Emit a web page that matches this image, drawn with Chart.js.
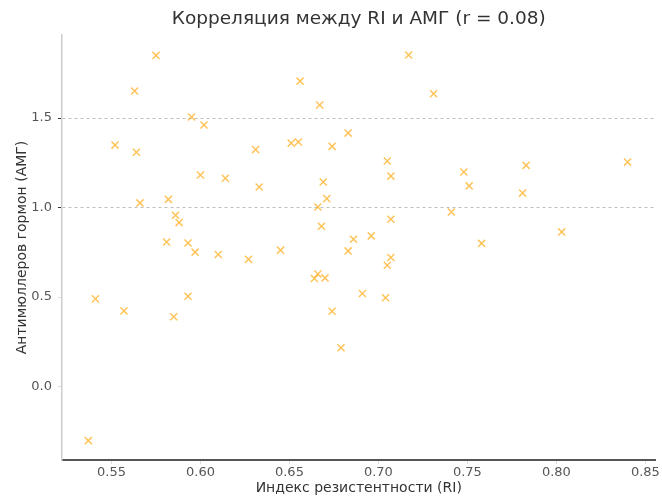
<!DOCTYPE html>
<html>
<head>
<meta charset="utf-8">
<script src="https://cdn.jsdelivr.net/npm/chart.js@4.4.1/dist/chart.umd.min.js"></script>
<style>
  html, body { margin: 0; padding: 0; background: #fff; }
  #chart { display: block; }
</style>
</head>
<body>
<canvas id="chart" width="662" height="497"></canvas>
<script>
// RI values (x) and AMH values (y)
const riValues = [
  0.575, 0.563, 0.595, 0.602, 0.552, 0.564, 0.631, 0.600, 0.614, 0.633,
  0.566, 0.582, 0.586, 0.588, 0.717, 0.656, 0.731, 0.667, 0.683, 0.651,
  0.655, 0.674, 0.705, 0.707, 0.748, 0.751, 0.669, 0.671, 0.666, 0.741,
  0.707, 0.668, 0.840, 0.783, 0.781, 0.803, 0.758, 0.581, 0.593, 0.597,
  0.610, 0.627, 0.645, 0.541, 0.557, 0.593, 0.585, 0.537, 0.686, 0.696,
  0.683, 0.707, 0.705, 0.664, 0.666, 0.670, 0.691, 0.704, 0.674, 0.679
];
const amhValues = [
  1.850, 1.651, 1.506, 1.461, 1.349, 1.309, 1.324, 1.182, 1.164, 1.115,
  1.026, 1.046, 0.957, 0.916, 1.852, 1.706, 1.636, 1.573, 1.416, 1.360,
  1.366, 1.342, 1.260, 1.176, 1.199, 1.121, 1.143, 1.050, 1.003, 0.975,
  0.935, 0.896, 1.254, 1.236, 1.081, 0.864, 0.800, 0.808, 0.802, 0.751,
  0.738, 0.711, 0.762, 0.490, 0.423, 0.505, 0.390, -0.302, 0.823, 0.842,
  0.758, 0.721, 0.678, 0.604, 0.629, 0.607, 0.520, 0.496, 0.421, 0.217
];

const xTicks = [0.55, 0.60, 0.65, 0.70, 0.75, 0.80, 0.85];
const yTicks = [0.0, 0.5, 1.0, 1.5];
const gridTicks = [1.0, 1.5];

const titleText = 'Корреляция между RI и АМГ (r = 0.08)';
const xTitle = 'Индекс резистентности (RI)';
const yTitle = 'Антимюллеров гормон (АМГ)';

const points = riValues.map((x, i) => ({ x: x, y: amhValues[i] }));

// title centred over the plot area, like matplotlib does
const plotTitle = {
  id: 'plotTitle',
  afterDraw(chart) {
    const c = chart.ctx;
    const area = chart.chartArea;
    c.save();
    c.font = '18.5px "DejaVu Sans"';
    c.fillStyle = '#333';
    c.textAlign = 'center';
    c.textBaseline = 'middle';
    c.fillText(titleText, (area.left + area.right) / 2, 19);
    c.restore();
  }
};

const ctx = document.getElementById('chart');

const chart = new Chart(ctx, {
  type: 'scatter',
  data: {
    datasets: [{
      data: points,
      pointStyle: 'crossRot',
      pointRadius: 5,
      pointHoverRadius: 5,
      pointBorderWidth: 1.5,
      borderColor: 'rgba(255,165,0,0.65)',
      backgroundColor: 'rgba(255,165,0,0.65)'
    }]
  },
  options: {
    responsive: false,
    animation: false,
    devicePixelRatio: 1,
    layout: { padding: { left: 0, right: 2, top: 35, bottom: 0 } },
    plugins: {
      legend: { display: false },
      tooltip: { enabled: false },
      title: { display: false }
    },
    scales: {
      x: {
        type: 'linear',
        min: 0.5222,
        max: 0.8557,
        border: { color: '#555', width: 2 },
        grid: {
          drawOnChartArea: false,
          tickLength: 4,
          tickColor: '#ddd'
        },
        ticks: {
          color: '#555',
          padding: 1,
          font: { family: 'DejaVu Sans', size: 13 },
          callback: (v) => v.toFixed(2)
        },
        afterBuildTicks: (scale) => {
          scale.ticks = xTicks.map(v => ({ value: v }));
        },
        afterFit: (scale) => {
          scale.height = 37;
          scale.paddingLeft = 0;
          scale.paddingRight = 0;
        },
        title: {
          display: true,
          text: xTitle,
          color: '#333',
          font: { family: 'DejaVu Sans', size: 14 },
          padding: { top: 0, bottom: 0 }
        }
      },
      y: {
        type: 'linear',
        min: -0.41,
        max: 1.964,
        border: { color: '#ccc', width: 1.5, dash: [3, 3] },
        grid: {
          color: (c) => gridTicks.includes(c.tick && c.tick.value) ? 'rgba(0,0,0,0.25)' : 'rgba(0,0,0,0)',
          tickColor: (c) => gridTicks.includes(c.tick && c.tick.value) ? '#333' : '#ddd',
          tickBorderDash: [0, 0],
          tickLength: 4,
          lineWidth: 1
        },
        ticks: {
          color: '#555',
          padding: 6,
          font: { family: 'DejaVu Sans', size: 13 },
          callback: (v) => v.toFixed(1)
        },
        afterBuildTicks: (scale) => {
          scale.ticks = yTicks.map(v => ({ value: v }));
        },
        afterFit: (scale) => {
          scale.width = 62;
          scale.paddingTop = 0;
          scale.paddingBottom = 0;
        },
        title: {
          display: true,
          text: yTitle,
          color: '#333',
          font: { family: 'DejaVu Sans', size: 14 },
          padding: { top: 14, bottom: 0 }
        }
      }
    }
  },
  plugins: [plotTitle]
});
</script>
</body>
</html>
